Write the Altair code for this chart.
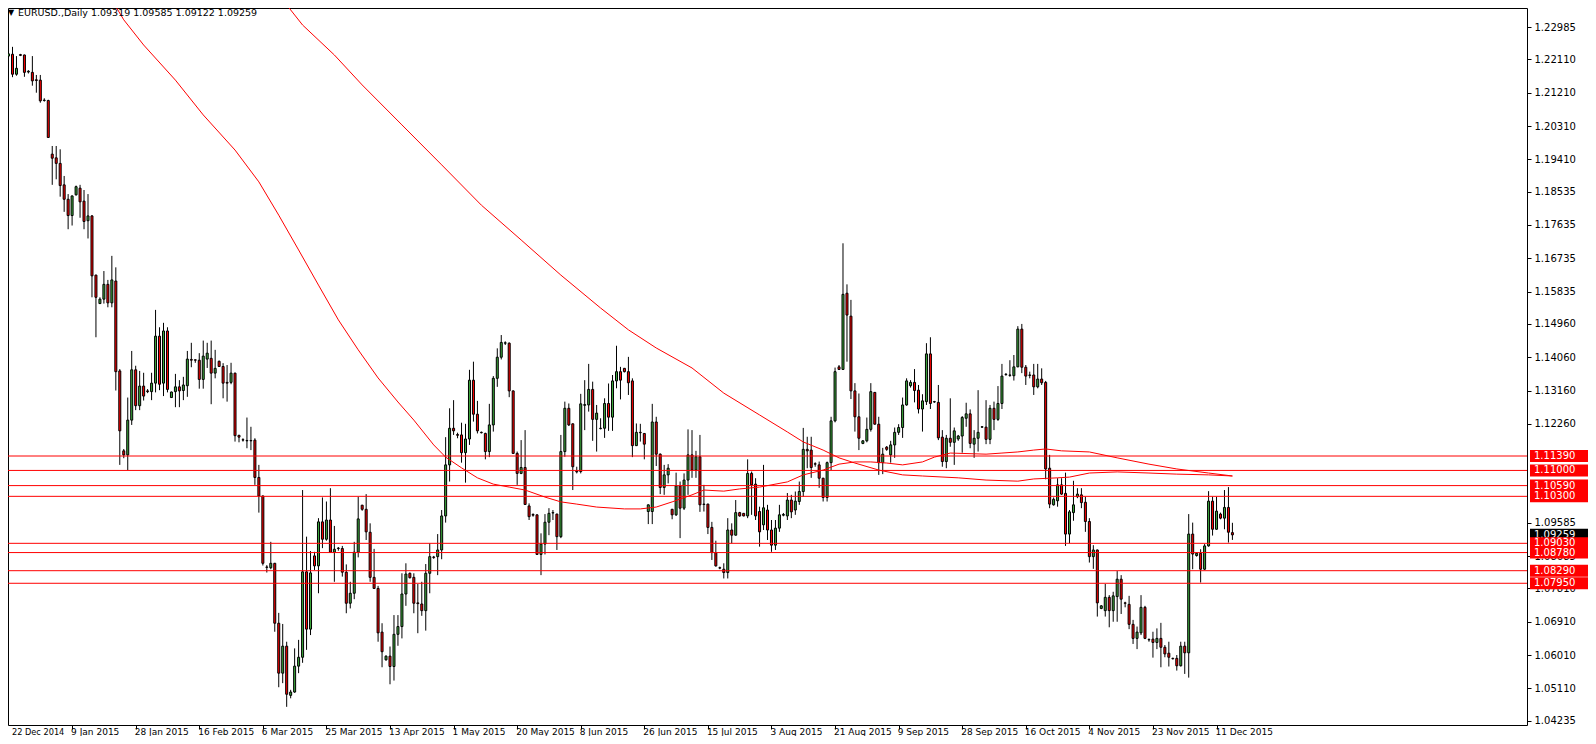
import altair as alt
import pandas as pd

# ---------------- data ----------------
symbol = "EURUSD.,Daily"

opens = [
 1.2220,1.2225,1.2171,1.2224,1.2223,1.2177,1.2176,1.2156,1.2155,1.2100,
 1.2100,1.1955,1.1945,1.1930,1.1872,1.1833,1.1789,1.1845,1.1863,1.1828,
 1.1775,1.1788,1.1628,1.1551,1.1563,1.1603,1.1553,1.1612,1.1369,1.1153,
 1.1142,1.1236,1.1372,1.1275,1.1328,1.1315,1.1313,1.1336,1.1463,1.1336,
 1.1477,1.1297,1.1313,1.1326,1.1316,1.1329,1.1400,1.1399,1.1398,1.1346,
 1.1401,1.1403,1.1363,1.1395,1.1381,1.1338,1.1338,1.1363,1.1195,1.1183,
 1.1181,1.1180,1.1182,1.1081,1.1031,1.0839,1.0837,1.0849,1.0687,1.0552,
 1.0625,1.0492,1.0501,1.0571,1.0595,1.0826,1.0671,1.0869,1.0842,1.0961,
 1.0914,1.0966,1.0879,1.0890,1.0889,1.0825,1.0741,1.0768,1.0879,1.1006,
 1.0995,1.0933,1.0811,1.0781,1.0663,1.0588,1.0598,1.0570,1.0657,1.0678,
 1.0766,1.0822,1.0811,1.0742,1.0739,1.0721,1.0822,1.0866,1.0867,1.0885,
 1.0977,1.1115,1.1214,1.1197,1.1196,1.1148,1.1185,1.1344,1.1252,1.1203,
 1.1200,1.1151,1.1223,1.1349,1.1406,1.1444,1.1444,1.1315,1.1146,1.1092,
 1.1108,1.1004,1.0981,1.0980,1.0873,1.0901,1.0960,1.0985,1.0982,1.0921,
 1.1151,1.1268,1.1226,1.1098,1.1097,1.1276,1.1277,1.1319,1.1238,1.1213,
 1.1214,1.1281,1.1244,1.1342,1.1367,1.1376,1.1367,1.1342,1.1167,1.1203,
 1.1200,1.0989,1.0989,1.1231,1.1144,1.1054,1.1088,1.0995,1.0980,1.1058,
 1.0998,1.1074,1.1142,1.1101,1.1137,1.1008,1.1009,1.0946,1.0878,1.0837,
 1.0833,1.0824,1.0939,1.0925,1.0986,1.0984,1.0977,1.1092,1.1063,1.0989,
 1.0953,1.0993,1.0939,1.0898,1.0944,1.0979,1.0977,1.1020,1.0993,1.1016,
 1.1043,1.1157,1.1155,1.1118,1.1115,1.1079,1.1027,1.1121,1.1234,1.1380,
 1.1373,1.1579,1.1517,1.1315,1.1245,1.1173,1.1180,1.1211,1.1311,1.1225,
 1.1121,1.1163,1.1142,1.1169,1.1203,1.1216,1.1277,1.1329,1.1338,1.1317,
 1.1266,1.1286,1.1415,1.1285,1.1284,1.1190,1.1124,1.1187,1.1176,1.1185,
 1.1193,1.1241,1.1253,1.1171,1.1187,1.1217,1.1217,1.1184,1.1268,1.1238,
 1.1281,1.1359,1.1357,1.1356,1.1380,1.1482,1.1379,1.1357,1.1358,1.1326,
 1.1347,1.1338,1.1106,1.1007,1.1018,1.1061,1.1038,1.0928,1.0986,1.1029,
 1.1034,1.1014,1.0962,1.0867,1.0885,1.0727,1.0721,1.0757,1.0721,1.0759,
 1.0806,1.0742,1.0738,1.0684,1.0646,1.0661,1.0730,1.0643,1.0644,1.0635,
 1.0646,1.0622,1.0606,1.0592,1.0592,1.0572,1.0625,1.0607,1.0928,1.0870,
 1.0876,1.0833,1.0896,1.1017,1.0941,1.0982,1.0971,1.1000,1.09319]

highs = [
 1.2272,1.2245,1.2220,1.2226,1.2224,1.2182,1.2220,1.2169,1.2169,1.2106,
 1.2102,1.1977,1.1977,1.1968,1.1896,1.1847,1.1843,1.1870,1.1872,1.1858,
 1.1847,1.1790,1.1629,1.1568,1.1639,1.1615,1.1680,1.1649,1.1374,1.1158,
 1.1297,1.1423,1.1383,1.1369,1.1364,1.1320,1.1364,1.1534,1.1487,1.1499,
 1.1487,1.1313,1.1361,1.1344,1.1353,1.1423,1.1445,1.1400,1.1417,1.1451,
 1.1445,1.1451,1.1426,1.1397,1.1390,1.1385,1.1391,1.1364,1.1196,1.1187,
 1.1243,1.1218,1.1187,1.1115,1.1032,1.0844,1.0907,1.0850,1.0715,1.0685,
 1.0637,1.0507,1.0619,1.0642,1.1047,1.0921,1.0882,1.0880,1.0971,1.1027,
 1.1016,1.1052,1.0950,1.0893,1.0896,1.0846,1.0799,1.0907,1.1029,1.1007,
 1.1036,1.0957,1.0888,1.0788,1.0687,1.0600,1.0624,1.0709,1.0709,1.0822,
 1.0849,1.0824,1.0822,1.0793,1.0799,1.0847,1.0903,1.0869,1.0928,1.0993,
 1.1190,1.1268,1.1290,1.1202,1.1229,1.1226,1.1372,1.1394,1.1288,1.1205,
 1.1202,1.1280,1.1355,1.1430,1.1466,1.1449,1.1446,1.1316,1.1151,1.1182,
 1.1209,1.1011,1.0984,1.0981,1.0930,1.0982,1.0998,1.0993,1.0983,1.1196,
 1.1286,1.1281,1.1227,1.1110,1.1307,1.1344,1.1388,1.1340,1.1277,1.1241,
 1.1295,1.1335,1.1358,1.1437,1.1380,1.1377,1.1407,1.1349,1.1227,1.1226,
 1.1201,1.1008,1.1280,1.1245,1.1146,1.1115,1.1117,1.0996,1.1094,1.1070,
 1.1092,1.1211,1.1209,1.1153,1.1196,1.1061,1.1010,1.0961,1.0910,1.0840,
 1.0849,1.0971,1.0957,1.1020,1.0988,1.0985,1.1130,1.1097,1.1079,1.1002,
 1.1115,1.1007,1.0966,1.0966,1.1007,1.0985,1.1039,1.1034,1.1043,1.1070,
 1.1215,1.1191,1.1191,1.1122,1.1124,1.1080,1.1124,1.1245,1.1378,1.1385,
 1.1714,1.1603,1.1561,1.1336,1.1308,1.1182,1.1243,1.1336,1.1312,1.1245,
 1.1161,1.1166,1.1180,1.1216,1.1225,1.1297,1.1349,1.1344,1.1374,1.1331,
 1.1306,1.1444,1.1460,1.1288,1.1331,1.1209,1.1196,1.1295,1.1216,1.1196,
 1.1247,1.1283,1.1265,1.1209,1.1317,1.1220,1.1290,1.1277,1.1286,1.1328,
 1.1388,1.1363,1.1398,1.1412,1.1490,1.1496,1.1385,1.1367,1.1388,1.1388,
 1.1376,1.1342,1.1142,1.1027,1.1079,1.1079,1.1094,1.0993,1.1072,1.1052,
 1.1052,1.1029,1.0971,1.0898,1.0886,1.0736,1.0793,1.0763,1.0772,1.0828,
 1.0817,1.0745,1.0761,1.0696,1.0678,1.0763,1.0734,1.0646,1.0664,1.0673,
 1.0688,1.0628,1.0637,1.0594,1.0601,1.0637,1.0637,1.0982,1.0959,1.0878,
 1.0887,1.0901,1.1044,1.1029,1.1029,1.0986,1.1047,1.1055,1.09585]

lows = [
 1.2214,1.2163,1.2167,1.2220,1.2164,1.2173,1.2140,1.2121,1.2094,1.2097,
 1.1999,1.1872,1.1887,1.1840,1.1799,1.1752,1.1762,1.1843,1.1783,1.1752,
 1.1727,1.1568,1.1460,1.1550,1.1551,1.1541,1.1541,1.1316,1.1115,1.1133,
 1.1101,1.1223,1.1263,1.1263,1.1289,1.1309,1.1290,1.1311,1.1317,1.1301,
 1.1311,1.1296,1.1271,1.1271,1.1290,1.1299,1.1379,1.1391,1.1321,1.1321,
 1.1377,1.1279,1.1349,1.1380,1.1295,1.1286,1.1333,1.1178,1.1176,1.1178,
 1.1160,1.1155,1.1061,1.0986,1.0843,1.0824,1.0833,1.0664,1.0514,1.0525,
 1.0461,1.0484,1.0499,1.0552,1.0580,1.0615,1.0655,1.0831,1.0768,1.0890,
 1.0910,1.0878,1.0799,1.0883,1.0813,1.0714,1.0727,1.0752,1.0865,1.0991,
 1.0912,1.0799,1.0780,1.0637,1.0568,1.0586,1.0522,1.0532,1.0626,1.0646,
 1.0734,1.0808,1.0714,1.0660,1.0707,1.0667,1.0768,1.0861,1.0817,1.0860,
 1.0959,1.1070,1.1196,1.1187,1.1121,1.1067,1.1169,1.1232,1.1200,1.1200,
 1.1130,1.1136,1.1205,1.1326,1.1400,1.1439,1.1298,1.1145,1.1061,1.1090,
 1.1007,1.0966,1.0975,1.0872,1.0817,1.0873,1.0925,1.0966,1.0885,1.0917,
 1.1137,1.1220,1.1047,1.1092,1.1092,1.1209,1.1259,1.1180,1.1151,1.1211,
 1.1188,1.1207,1.1207,1.1322,1.1292,1.1365,1.1304,1.1136,1.1166,1.1178,
 1.1130,1.0955,1.0955,1.1112,1.1036,1.1034,1.1065,1.0968,1.0977,1.0917,
 1.0993,1.1034,1.1080,1.1080,1.0988,1.0989,1.0928,1.0858,1.0840,1.0833,
 1.0808,1.0808,1.0903,1.0924,1.0975,1.0976,1.0971,1.0980,1.0966,1.0894,
 1.0939,1.0912,1.0880,1.0885,1.0934,1.0976,1.0966,1.0971,1.0980,1.1007,
 1.1029,1.1106,1.1080,1.1110,1.1053,1.1016,1.1016,1.1101,1.1230,1.1372,
 1.1372,1.1394,1.1293,1.1205,1.1155,1.1171,1.1176,1.1205,1.1224,1.1088,
 1.1090,1.1153,1.1121,1.1134,1.1196,1.1188,1.1275,1.1324,1.1284,1.1254,
 1.1205,1.1277,1.1266,1.1283,1.1182,1.1110,1.1106,1.1164,1.1115,1.1180,
 1.1148,1.1218,1.1160,1.1134,1.1151,1.1215,1.1171,1.1171,1.1209,1.1234,
 1.1266,1.1356,1.1353,1.1343,1.1379,1.1363,1.1331,1.1349,1.1304,1.1322,
 1.1331,1.1076,1.0998,1.1005,1.1002,1.1034,1.0896,1.0903,1.0964,1.1025,
 1.0998,1.0934,1.0851,1.0834,1.0705,1.0725,1.0705,1.0676,1.0691,1.0691,
 1.0712,1.0730,1.0671,1.0631,1.0617,1.0655,1.0644,1.0637,1.0594,1.0617,
 1.0568,1.0595,1.0570,1.0589,1.0559,1.0570,1.0550,1.0540,1.0833,1.0867,
 1.0797,1.0831,1.0894,1.0924,1.0940,1.0968,1.0941,1.0905,1.09122]

closes = [
 1.2226,1.2171,1.2187,1.2222,1.2176,1.2179,1.2153,1.2154,1.2099,1.2101,
 1.2000,1.1944,1.1930,1.1870,1.1833,1.1789,1.1842,1.1867,1.1826,1.1773,
 1.1788,1.1626,1.1568,1.1563,1.1603,1.1553,1.1615,1.1367,1.1207,1.1142,
 1.1236,1.1372,1.1275,1.1328,1.1301,1.1313,1.1336,1.1463,1.1333,1.1477,
 1.1319,1.1312,1.1326,1.1315,1.1331,1.1401,1.1398,1.1398,1.1346,1.1409,
 1.1417,1.1363,1.1376,1.1381,1.1336,1.1336,1.1363,1.1194,1.1190,1.1182,
 1.1180,1.1181,1.1081,1.1031,1.0849,1.0838,1.0849,1.0687,1.0552,1.0625,
 1.0495,1.0501,1.0571,1.0595,1.0826,1.0671,1.0823,1.0842,1.0961,1.0914,
 1.0966,1.0879,1.0887,1.0889,1.0825,1.0741,1.0768,1.0879,1.0969,1.0995,
 1.0934,1.0811,1.0781,1.0661,1.0610,1.0598,1.0570,1.0657,1.0678,1.0766,
 1.0820,1.0810,1.0741,1.0740,1.0721,1.0822,1.0867,1.0865,1.0885,1.0977,
 1.1115,1.1214,1.1207,1.1195,1.1148,1.1185,1.1344,1.1252,1.1207,1.1202,
 1.1151,1.1223,1.1349,1.1406,1.1446,1.1445,1.1315,1.1146,1.1092,1.1108,
 1.1008,1.0975,1.0979,1.0873,1.0901,1.0960,1.0984,1.0986,1.0921,1.1151,
 1.1268,1.1223,1.1110,1.1096,1.1280,1.1278,1.1319,1.1238,1.1255,1.1214,
 1.1281,1.1244,1.1342,1.1367,1.1344,1.1367,1.1337,1.1167,1.1203,1.1202,
 1.1171,1.1007,1.1231,1.1144,1.1054,1.1088,1.1106,1.0980,1.1058,1.0998,
 1.1074,1.1142,1.1101,1.1137,1.1007,1.1009,1.0946,1.0878,1.0842,1.0836,
 1.0824,1.0939,1.0925,1.0986,1.0977,1.0977,1.1092,1.1061,1.0977,1.0934,
 1.0999,1.0939,1.0898,1.0944,1.0980,1.0981,1.1020,1.0988,1.1017,1.1043,
 1.1157,1.1153,1.1108,1.1117,1.1079,1.1027,1.1121,1.1234,1.1367,1.1373,
 1.1576,1.1520,1.1315,1.1245,1.1187,1.1180,1.1211,1.1313,1.1225,1.1121,
 1.1144,1.1157,1.1169,1.1203,1.1216,1.1277,1.1342,1.1338,1.1316,1.1266,
 1.1288,1.1415,1.1281,1.1286,1.1188,1.1124,1.1187,1.1176,1.1207,1.1193,
 1.1243,1.1253,1.1173,1.1187,1.1203,1.1218,1.1184,1.1268,1.1238,1.1281,
 1.1355,1.1360,1.1358,1.1380,1.1482,1.1379,1.1355,1.1358,1.1326,1.1347,
 1.1337,1.1104,1.1009,1.1022,1.1061,1.1036,1.0928,1.0988,1.1007,1.1036,
 1.1013,1.0962,1.0867,1.0885,1.0742,1.0734,1.0757,1.0721,1.0761,1.0806,
 1.0752,1.0741,1.0684,1.0646,1.0663,1.0730,1.0646,1.0642,1.0635,1.0646,
 1.0622,1.0604,1.0595,1.0591,1.0572,1.0625,1.0607,1.0928,1.0874,1.0876,
 1.0833,1.0896,1.1017,1.0941,1.0990,1.0971,1.1000,1.0933,1.09259]

date_labels = ["22 Dec 2014", "9 Jan 2015", "28 Jan 2015", "16 Feb 2015", "6 Mar 2015",
               "25 Mar 2015", "13 Apr 2015", "1 May 2015", "20 May 2015", "8 Jun 2015",
               "26 Jun 2015", "15 Jul 2015", "3 Aug 2015", "21 Aug 2015", "9 Sep 2015",
               "28 Sep 2015", "16 Oct 2015", "4 Nov 2015", "23 Nov 2015", "11 Dec 2015"]
date_bars = [0, 16, 32, 48, 64, 80, 96, 112, 128, 144, 160, 176, 192, 208, 224,
             240, 256, 272, 288, 304]

# price scale labels (those fully hidden behind the level boxes are left out)
price_ticks = [1.22985, 1.22110, 1.21210, 1.20310, 1.19410, 1.18535, 1.17635, 1.16735,
               1.15835, 1.14960, 1.14060, 1.13160, 1.12260, 1.09585,
               1.08685, 1.07810, 1.06910, 1.06010, 1.05110, 1.04235]

level_prices = [1.11390, 1.11000, 1.10590, 1.10300, 1.09030, 1.08780, 1.08290, 1.07950]

ma_fast_bars = [26, 29, 34, 42, 49, 57, 63, 68, 73, 78, 83, 88, 93, 98, 102, 107, 110, 114,
                118, 122, 126, 130, 135, 139, 143, 148, 155, 159, 163, 167, 172, 175, 180,
                184, 189, 196, 200, 205, 209, 213, 217, 221, 225, 230, 233, 237, 246, 250,
                254, 258, 261, 265, 272, 279, 287, 294, 302, 308]
ma_fast_vals = [1.2372, 1.2318, 1.2250, 1.2155, 1.2061, 1.1966, 1.1880, 1.1790, 1.1696,
                1.1601, 1.1507, 1.1426, 1.1350, 1.1285, 1.1236, 1.1169, 1.1136, 1.1107,
                1.1080, 1.1063, 1.1055, 1.1047, 1.1028, 1.1015, 1.1009, 1.1001, 1.0996,
                1.0996, 1.1001, 1.1015, 1.1034, 1.1047, 1.1044, 1.1050, 1.1055, 1.1069,
                1.1088, 1.1101, 1.1117, 1.1123, 1.1123, 1.1120, 1.1115, 1.1123, 1.1136,
                1.1147, 1.1144, 1.1147, 1.1150, 1.1155, 1.1158, 1.1153, 1.1150, 1.1134,
                1.1117, 1.1104, 1.1093, 1.1085]

ma_slow_bars = [69, 74, 82, 89, 99, 109, 119, 129, 139, 149, 156, 163, 172, 180, 189, 196,
                200, 205, 209, 213, 219, 225, 230, 239, 246, 254, 258, 264, 267, 272, 279,
                287, 294, 302, 308]
ma_slow_vals = [1.2372, 1.2304, 1.2223, 1.2142, 1.2034, 1.1926, 1.1817, 1.1723, 1.1628,
                1.1539, 1.1480, 1.1431, 1.1377, 1.1309, 1.1250, 1.1204, 1.1177, 1.1155,
                1.1134, 1.1120, 1.1101, 1.1088, 1.1085, 1.1080, 1.1074, 1.1071, 1.1077,
                1.1080, 1.1082, 1.1093, 1.1096, 1.1093, 1.1090, 1.1088, 1.1085]

# ---------------- layout / style ----------------
W, H = 1519, 717
FONT = "DejaVu Sans"
FS = 10
FS_DATE = 9
FS_TITLE = 9.5
RED = "#ff0000"
GREEN = "#3ca83c"

xscale = alt.Scale(domain=[1.125, 380.875], nice=False, zero=False)
yscale = alt.Scale(domain=[1.04119, 1.235], nice=False, zero=False)

bars = pd.DataFrame({"i": list(range(len(opens))), "open": opens, "high": highs,
                     "low": lows, "close": closes})

ma = pd.concat([
    pd.DataFrame({"i": ma_fast_bars, "v": ma_fast_vals, "ma": "fast"}),
    pd.DataFrame({"i": ma_slow_bars, "v": ma_slow_vals, "ma": "slow"}),
])
levels = pd.DataFrame({"p": level_prices})
current = pd.DataFrame({"p": [closes[-1]]})
dates = pd.DataFrame({"i": date_bars, "label": date_labels})
title_df = pd.DataFrame({"t": [f"{symbol}  {opens[-1]:.5f} {highs[-1]:.5f} {lows[-1]:.5f} {closes[-1]:.5f}"]})
tri_df = pd.DataFrame({"t": ["\u25BC"]})

y_axis = alt.Axis(orient="right", values=price_ticks, format=".5f", title=None, grid=False,
                  domain=False, ticks=True, tickSize=4, tickColor="black", tickWidth=1,
                  labelFont=FONT, labelFontSize=FS, labelColor="black", labelPadding=3,
                  labelOverlap=False, labelBaseline="middle", labelFlush=False)
x_axis = alt.Axis(orient="bottom", values=date_bars[1:], labels=False, title=None, grid=False,
                  domain=False, ticks=True, tickSize=4, tickColor="black", tickWidth=1)

X = lambda f: alt.X(f, scale=xscale, axis=x_axis)
Y = lambda f: alt.Y(f, scale=yscale, axis=y_axis)

wicks = alt.Chart(bars).mark_rule(color="black", strokeWidth=1, clip=True).encode(
    x=X("i:Q"), y=Y("low:Q"), y2="high:Q",
)

bodies = alt.Chart(bars).mark_bar(size=2, stroke="black", strokeWidth=1, opacity=1,
                                  clip=True).encode(
    x=X("i:Q"), y=Y("open:Q"), y2="close:Q",
    fill=alt.condition("datum.close >= datum.open", alt.value(GREEN), alt.value(RED)),
)

ma_lines = alt.Chart(ma).mark_line(color=RED, strokeWidth=1, clip=True).encode(
    x=X("i:Q"), y=Y("v:Q"), detail="ma:N",
)

hlines = alt.Chart(levels).mark_rule(color=RED, strokeWidth=1).encode(y=Y("p:Q"))

cur_box = alt.Chart(current).mark_tick(orient="horizontal", size=58, thickness=12,
                                        color="black", opacity=1).encode(
    x=alt.value(W + 32), y=Y("p:Q"))
cur_txt = alt.Chart(current).mark_text(align="left", baseline="middle", color="white",
                                        font=FONT, fontSize=FS).encode(
    x=alt.value(W + 7), y=Y("p:Q"), text=alt.Text("p:Q", format=".5f"))

lvl_box = alt.Chart(levels).mark_tick(orient="horizontal", size=58, thickness=12,
                                       color=RED, opacity=1).encode(
    x=alt.value(W + 32), y=Y("p:Q"))
lvl_txt = alt.Chart(levels).mark_text(align="left", baseline="middle", color="white",
                                       font=FONT, fontSize=FS).encode(
    x=alt.value(W + 7), y=Y("p:Q"), text=alt.Text("p:Q", format=".5f"))

date_txt = alt.Chart(dates).transform_calculate(
    xl="max(datum.i, 1.125)"
).mark_text(align="left", baseline="alphabetic", font=FONT, color="black",
            dx=-1).encode(
    x=X("xl:Q"), y=alt.value(H + 10), text="label:N",
    size=alt.condition("datum.i == 0", alt.value(8.2), alt.value(FS_DATE)),
)

tri = alt.Chart(tri_df).mark_text(align="left", baseline="alphabetic", font=FONT,
                                  fontSize=8, color="black").encode(
    x=alt.value(0), y=alt.value(7), text="t:N")
title_txt = alt.Chart(title_df).mark_text(align="left", baseline="alphabetic", font=FONT,
                                          fontSize=FS_TITLE, color="black").encode(
    x=alt.value(10), y=alt.value(8), text="t:N")

chart = alt.layer(
    wicks, bodies, ma_lines, hlines, cur_box, cur_txt, lvl_box, lvl_txt,
    date_txt, tri, title_txt
).properties(
    width=W, height=H,
    padding={"left": 0, "top": 0, "right": 61, "bottom": 11},
    autosize=alt.AutoSizeParams(type="none"),
    background="white",
).configure_view(stroke="black", strokeWidth=1)

chart.save("out.html", embed_options={"renderer": "svg", "actions": False})
